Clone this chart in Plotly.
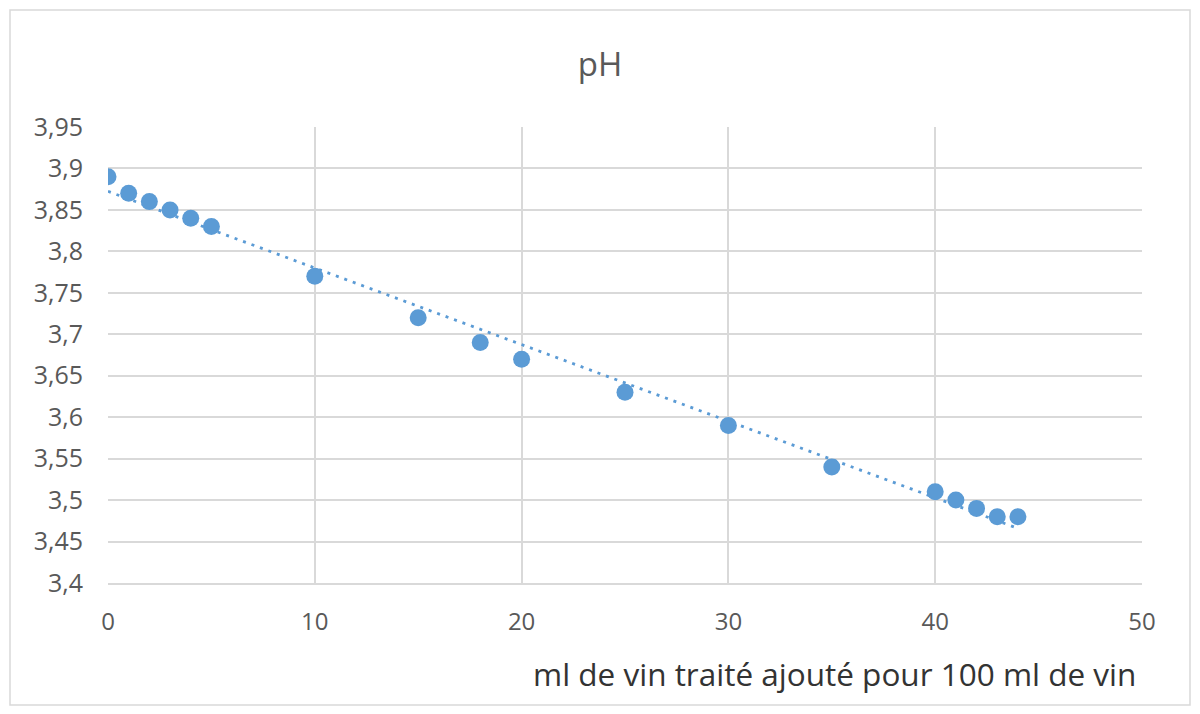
import numpy as np
import plotly.graph_objects as go

# Data
volume_ml = [0, 1, 2, 3, 4, 5, 10, 15, 18, 20, 25, 30, 35, 40, 41, 42, 43, 44]
ph_values = [3.89, 3.87, 3.86, 3.85, 3.84, 3.83, 3.77, 3.72, 3.69, 3.67, 3.63,
             3.59, 3.54, 3.51, 3.50, 3.49, 3.48, 3.48]
y_tickvals = [3.4, 3.45, 3.5, 3.55, 3.6, 3.65, 3.7, 3.75, 3.8, 3.85, 3.9, 3.95]
y_ticktext = ["3,4", "3,45", "3,5", "3,55", "3,6", "3,65", "3,7", "3,75", "3,8",
              "3,85", "3,9", "3,95"]
x_tickvals = [0, 10, 20, 30, 40, 50]
chart_title = "pH"
x_title = "ml de vin traité ajouté pour 100 ml de vin"

# Linear trendline (least squares, as Excel's linear trendline)
slope, intercept = np.polyfit(volume_ml, ph_values, 1)
trend_x = [min(volume_ml), max(volume_ml)]
trend_y = [slope * v + intercept for v in trend_x]

color = "#5B9BD5"
font_family = "'Open Sans', sans-serif"

fig = go.Figure()
fig.add_trace(go.Scatter(
    x=trend_x, y=trend_y, mode="lines",
    line=dict(color=color, width=2.8, dash="3px,6px"),
    hoverinfo="skip", showlegend=False,
))
fig.add_trace(go.Scatter(
    x=volume_ml, y=ph_values, mode="markers",
    marker=dict(color=color, size=17, line=dict(width=0)),
    showlegend=False,
))

W, H = 1200, 714
L, R, T, B = 108, 1142, 127, 583
pw, ph = R - L, B - T

def px_x(p):
    return (p - L) / pw

def px_y(p):
    return (B - p) / ph

fig.update_layout(
    width=W, height=H,
    margin=dict(l=L, r=W - R, t=T, b=H - B, autoexpand=False),
    paper_bgcolor="white", plot_bgcolor="white",
    font=dict(family=font_family, color="#595959", size=24),
    title=dict(text=chart_title, x=0.5, xanchor="center", xref="container",
               y=1 - 64 / H, yanchor="middle", yref="container",
               font=dict(size=33, color="#595959", family=font_family)),
    xaxis=dict(range=[0, 50], tickvals=x_tickvals, showgrid=True,
               gridcolor="#D9D9D9", gridwidth=1.5, zeroline=False,
               showline=True, linecolor="#D9D9D9", linewidth=1.5,
               ticks="", ticklabelstandoff=16,
               tickfont=dict(size=24, color="#595959")),
    yaxis=dict(range=[3.4, 3.95], tickvals=y_tickvals, ticktext=y_ticktext,
               showgrid=True, gridcolor="#D9D9D9", gridwidth=1.5,
               zeroline=False, showline=False, ticks="",
               ticklabelstandoff=24,
               tickfont=dict(size=25, color="#595959")),
    annotations=[dict(
        text=x_title, xref="paper", yref="paper",
        x=px_x(1138), y=px_y(673), xanchor="right", yanchor="middle",
        showarrow=False, font=dict(size=31.5, color="#333333", family=font_family),
    )],
    shapes=[dict(
        type="rect", xref="paper", yref="paper",
        x0=px_x(10), x1=px_x(1190), y0=px_y(705), y1=px_y(10),
        line=dict(color="#D9D9D9", width=1.5), fillcolor="rgba(0,0,0,0)",
        layer="below",
    )],
)

fig.write_html(
    "out.html",
    config={"displayModeBar": False},
    post_script="document.body.style.margin='0px';document.body.style.overflow='hidden';",
)
